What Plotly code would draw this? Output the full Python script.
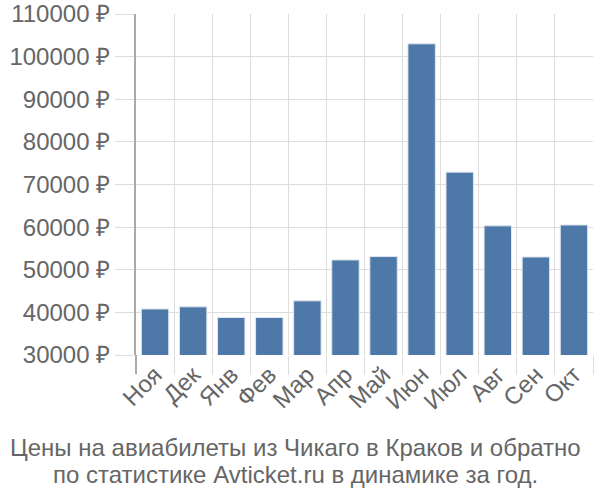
import plotly.graph_objects as go

months = ["Ноя", "Дек", "Янв", "Фев", "Мар", "Апр", "Май", "Июн", "Июл", "Авг", "Сен", "Окт"]
prices = [40800, 41300, 38800, 38800, 42700, 52300, 53100, 103000, 72900, 60300, 53000, 60500]
y_ticks = [30000, 40000, 50000, 60000, 70000, 80000, 90000, 100000, 110000]
y_labels = [f"{v} ₽" for v in y_ticks]
title_lines = ["Цены на авиабилеты из Чикаго в Краков и обратно",
               "по статистике Avticket.ru в динамике за год."]

fig = go.Figure(go.Bar(
    x=months, y=prices,
    marker=dict(color="#4d78a8", line=dict(color="#dfe6ee", width=1)),
    width=0.72,
))

font = dict(family="Liberation Sans, Arial, sans-serif", size=24, color="#666666")

fig.update_layout(
    width=600, height=500,
    margin=dict(l=136, r=7, t=14, b=145),
    paper_bgcolor="white", plot_bgcolor="white",
    font=font,
    showlegend=False,
    xaxis=dict(
        type="category", tickson="boundaries", showgrid=True, gridcolor="#dddddd", gridwidth=1,
        ticks="outside", ticklen=19, tickcolor="#dddddd", tickangle=-45,
        tickfont=font, showline=False, zeroline=False, automargin=False,
    ),
    yaxis=dict(
        range=[30000, 110000], tickvals=y_ticks, ticktext=y_labels,
        showgrid=True, gridcolor="#dddddd", gridwidth=1,
        ticks="outside", ticklen=19, tickcolor="#dddddd",
        tickfont=font, showline=True, linecolor="#aaaaaa", linewidth=2, zeroline=False,
        automargin=False, ticklabeloverflow="allow",
    ),
    annotations=[
        dict(text=title_lines[0], xref="paper", yref="paper", x=0.348, y=-0.270,
             xanchor="center", yanchor="middle", showarrow=False, font=font),
        dict(text=title_lines[1], xref="paper", yref="paper", x=0.348, y=-0.349,
             xanchor="center", yanchor="middle", showarrow=False, font=font),
    ],
    shapes=[dict(type="line", xref="paper", yref="paper", x0=0, x1=0, y0=0, y1=-0.056,
                 line=dict(color="#aaaaaa", width=2))],
)

fig.write_html("out.html", config={"displayModeBar": False},
               post_script="document.body.style.margin='0';")
